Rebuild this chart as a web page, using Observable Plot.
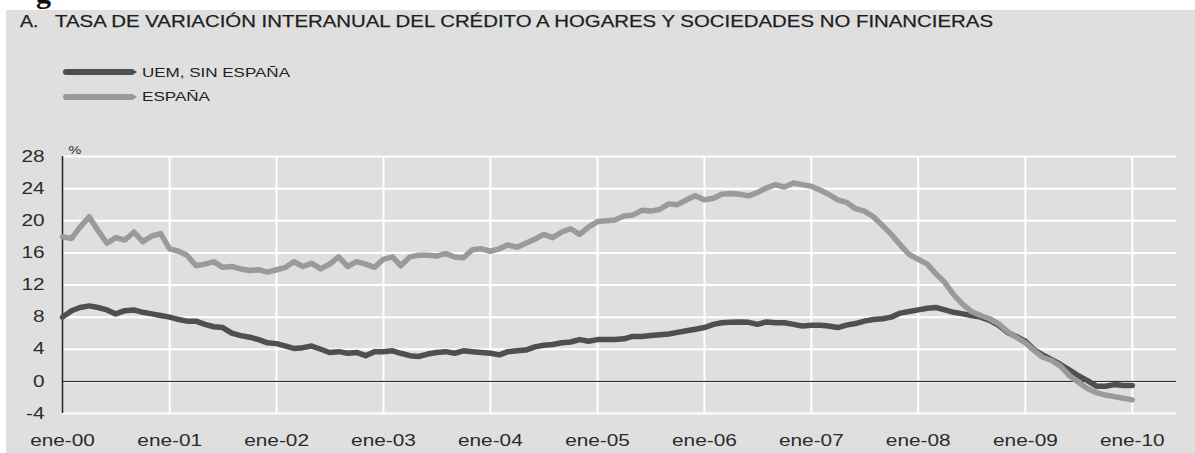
<!DOCTYPE html>
<html>
<head>
<meta charset="utf-8">
<script src="https://cdn.jsdelivr.net/npm/d3@7"></script>
<script src="https://cdn.jsdelivr.net/npm/@observablehq/plot@0.6"></script>
<style>
  html, body { margin: 0; padding: 0; background: #ffffff; }
  body { position: relative; width: 1195px; height: 453px; overflow: hidden; font-family: "Liberation Sans", Arial, sans-serif; }
  .strip { position: absolute; left: 0; top: 0; width: 1195px; height: 10px; overflow: hidden; }
  .strip span { position: absolute; left: 36px; top: -22px; font-family: "Liberation Serif", serif; font-weight: bold; font-size: 30px; line-height: 30px; color: #111; }
  .panel { position: absolute; left: 6px; top: 10px; width: 1189px; height: 443px; background: #dfdfdf; }
  .txt { position: absolute; white-space: nowrap; display: inline-block; transform-origin: 0 0; }
  .title { font-size: 17px; line-height: 17px; color: #1e1e1e; top: 12.6px; -webkit-text-stroke: 0.25px #1e1e1e; }
  .leg { font-size: 12.5px; line-height: 12.5px; color: #222; }
  .swatch { position: absolute; left: 63px; width: 74px; height: 6px; border-radius: 3px 0 0 3px;
            clip-path: polygon(0 0, 94% 0, 100% 50%, 94% 100%, 0 100%); }
  #chart { position: absolute; left: 0; top: 110px; }
</style>
</head>
<body>
<div class="strip"><span>g</span></div>
<div class="panel"></div>
<div id="t1" class="txt title" style="left:20px">A.</div>
<div id="t2" class="txt title" style="left:55px">TASA DE VARIACIÓN INTERANUAL DEL CRÉDITO A HOGARES Y SOCIEDADES NO FINANCIERAS</div>
<div class="swatch" id="sw1" style="top:69px"></div>
<div class="swatch" id="sw2" style="top:94px"></div>
<div id="l1" class="txt leg" style="left:142px; top:66.7px"></div>
<div id="l2" class="txt leg" style="left:142px; top:91.1px"></div>
<div id="chart"></div>
<script>
// ---- data ----
const seriesNames = ["UEM, SIN ESPAÑA", "ESPAÑA"];
const seriesColors = ["#4f4f4f", "#9a9a9a"];
// monthly, ene-2000 .. ene-2010
const uem = [8.0,8.8,9.2,9.4,9.2,8.9,8.4,8.8,8.9,8.6,8.4,8.2,
 8.0,7.7,7.5,7.5,7.1,6.8,6.7,6.0,5.7,5.5,5.2,4.8,
 4.7,4.4,4.1,4.2,4.4,4.0,3.6,3.7,3.5,3.6,3.2,3.7,
 3.7,3.8,3.5,3.2,3.1,3.4,3.6,3.7,3.5,3.8,3.7,3.6,
 3.5,3.3,3.7,3.8,3.9,4.3,4.5,4.6,4.8,4.9,5.2,5.0,
 5.2,5.2,5.2,5.3,5.6,5.6,5.7,5.8,5.9,6.1,6.3,6.5,
 6.7,7.1,7.3,7.35,7.4,7.35,7.1,7.4,7.3,7.3,7.1,6.9,
 7.0,7.0,6.9,6.7,7.0,7.2,7.5,7.7,7.8,8.0,8.5,8.7,
 8.9,9.1,9.2,8.9,8.6,8.4,8.2,8.0,7.6,7.0,6.1,5.6,
 5.0,3.9,3.3,2.7,2.1,1.4,0.7,0.1,-0.6,-0.6,-0.4,-0.5,
 -0.5];
const espana = [18.0,17.8,19.2,20.5,18.8,17.2,17.9,17.6,18.6,17.4,18.1,18.4,
 16.5,16.2,15.7,14.4,14.6,14.9,14.2,14.3,14.0,13.8,13.9,13.6,
 13.9,14.2,14.9,14.3,14.7,14.0,14.6,15.5,14.3,14.9,14.6,14.2,
 15.2,15.5,14.4,15.5,15.7,15.7,15.6,15.9,15.5,15.4,16.4,16.5,
 16.2,16.5,17.0,16.7,17.2,17.7,18.3,17.9,18.6,19.0,18.3,19.2,
 19.9,20.0,20.1,20.6,20.7,21.3,21.2,21.4,22.1,22.0,22.6,23.1,
 22.6,22.8,23.3,23.4,23.3,23.1,23.5,24.1,24.5,24.2,24.7,24.5,
 24.3,23.8,23.3,22.6,22.3,21.5,21.2,20.5,19.4,18.3,17.0,15.8,
 15.2,14.6,13.4,12.3,10.8,9.6,8.7,8.2,7.8,7.2,6.2,5.5,
 4.8,3.8,3.0,2.6,1.9,0.7,-0.1,-0.9,-1.4,-1.7,-1.9,-2.1,
 -2.3];
const xTickYears = [2000,2001,2002,2003,2004,2005,2006,2007,2008,2009,2010];
const xTickLabels = ["ene-00","ene-01","ene-02","ene-03","ene-04","ene-05","ene-06","ene-07","ene-08","ene-09","ene-10"];
const yTicks = [-4,0,4,8,12,16,20,24,28];
const yUnit = "%";

// ---- build table ----
const monthDate = i => new Date(Date.UTC(2000, i, 1));
const rows = [];
uem.forEach((v, i) => rows.push({date: monthDate(i), value: v, serie: seriesNames[0]}));
espana.forEach((v, i) => rows.push({date: monthDate(i), value: v, serie: seriesNames[1]}));
const xTicks = xTickYears.map(y => new Date(Date.UTC(y, 0, 1)));
const labelOf = d => xTickLabels[xTickYears.indexOf(d.getUTCFullYear())];

// legend
document.getElementById("sw1").style.background = seriesColors[0];
document.getElementById("sw2").style.background = seriesColors[1];
document.getElementById("l1").textContent = seriesNames[0];
document.getElementById("l2").textContent = seriesNames[1];

const chart = Plot.plot({
  width: 1195,
  height: 343,
  marginTop: 46,
  marginBottom: 40,
  marginLeft: 62,
  marginRight: 19,
  style: {background: "transparent", fontFamily: "Liberation Sans, Arial, sans-serif", fontSize: "16px", color: "#2b2b2b", overflow: "visible"},
  x: {type: "utc", domain: [new Date(Date.UTC(2000, 0, 1)), new Date(Date.UTC(2010, 5, 1))], axis: null, label: null},
  y: {domain: [-4, 28], axis: null, label: null},
  marks: [
    Plot.ruleY(yTicks, {stroke: "#ffffff", strokeWidth: 2}),
    Plot.ruleX(xTicks.slice(1), {stroke: "#ffffff", strokeWidth: 2}),
    Plot.ruleY([0], {stroke: "#111111", strokeWidth: 1}),
    Plot.ruleX([xTicks[0]], {stroke: "#222222", strokeWidth: 1.5}),
    Plot.axisY(yTicks, {tickSize: 0, tickPadding: 18, fontSize: 16, label: null, tickFormat: d => String(d)}),
    Plot.axisX(xTicks, {tickSize: 0, tickPadding: 21, fontSize: 16, label: null, tickFormat: labelOf}),
    Plot.text([yUnit], {frameAnchor: "top-left", dx: 6, dy: -10.5, fontSize: 11, textAnchor: "start"}),
    Plot.line(rows, {x: "date", y: "value", z: "serie", stroke: "serie", strokeWidth: 5.5, strokeLinejoin: "round", strokeLinecap: "round"})
  ],
  color: {domain: seriesNames, range: seriesColors}
});
document.getElementById("chart").appendChild(chart);

// horizontal stretch of the texts, as in the reference
const STRETCH = 1.3;
chart.querySelectorAll("text").forEach(t => {
  const w = t.getComputedTextLength();
  if (w > 0) {
    t.setAttribute("textLength", (w * STRETCH).toFixed(2));
    t.setAttribute("lengthAdjust", "spacingAndGlyphs");
  }
});
function fitWidth(id, target) {
  const el = document.getElementById(id);
  const w = el.getBoundingClientRect().width;
  el.style.transform = `scaleX(${target / w})`;
}
fitWidth("t1", 18.5);
fitWidth("t2", 938);
fitWidth("l1", 148);
fitWidth("l2", 68);
</script>
</body>
</html>
